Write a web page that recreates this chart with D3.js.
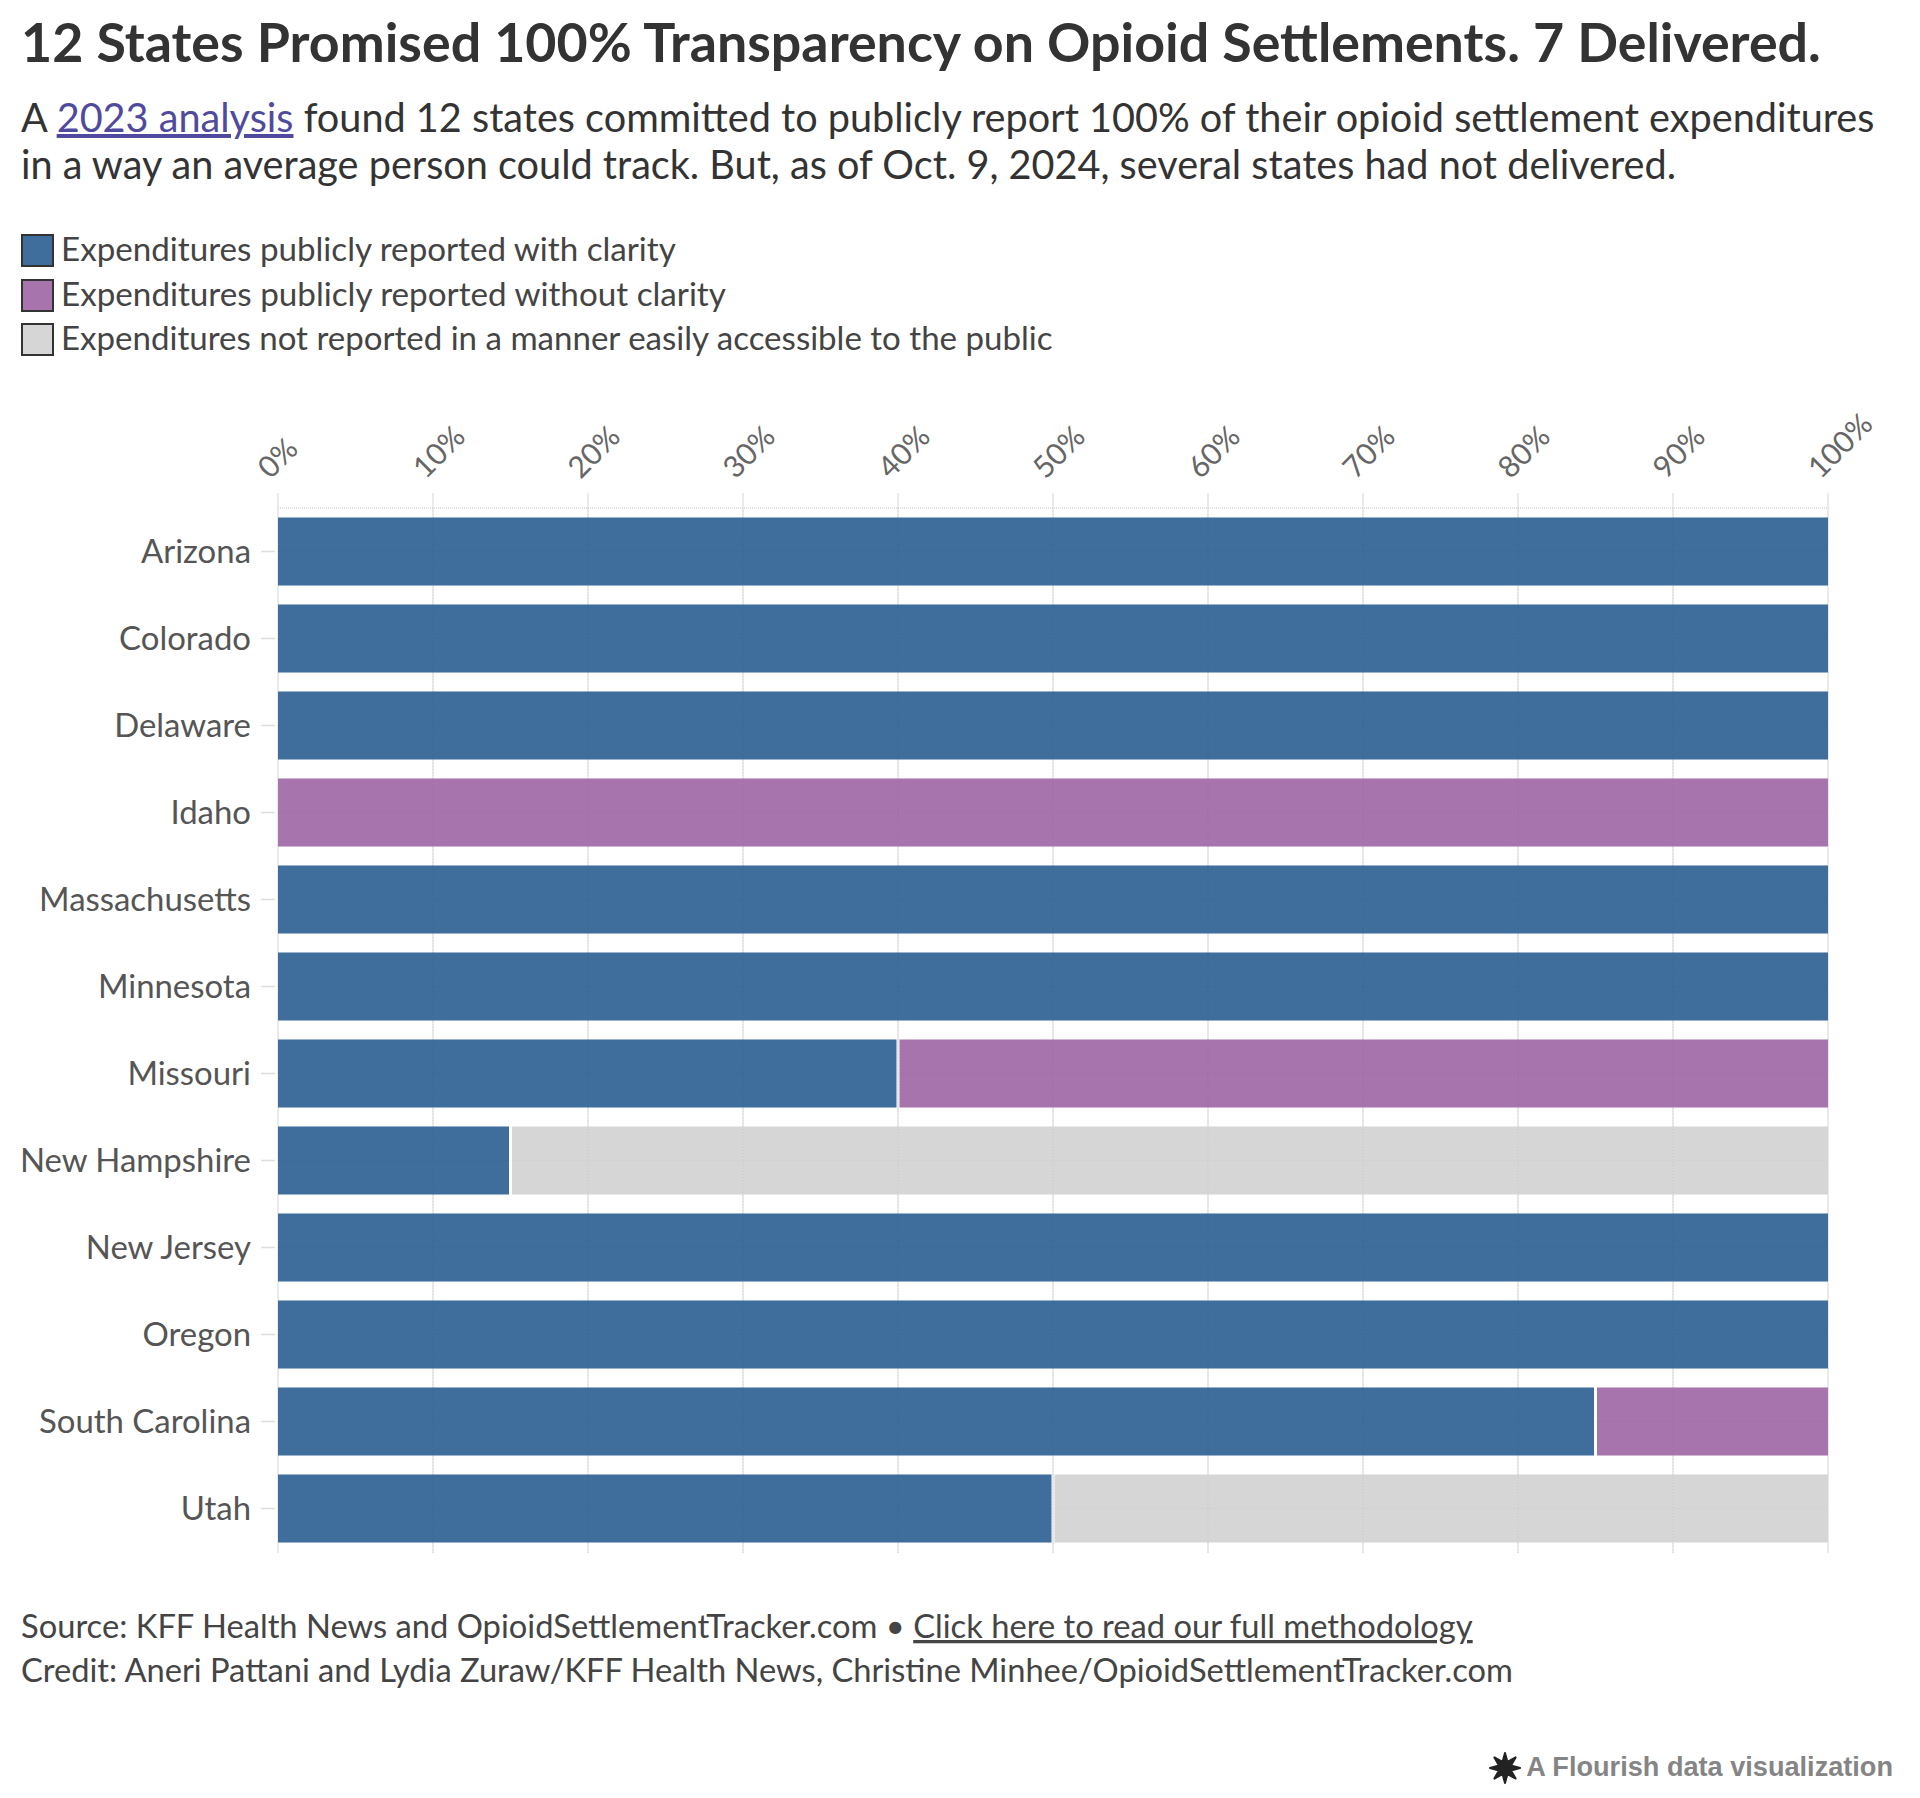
<!DOCTYPE html>
<html>
<head>
<meta charset="utf-8">
<script src="https://cdn.jsdelivr.net/npm/d3@7"></script>
<style>
  html, body { margin: 0; padding: 0; background: #fff; }
  svg { display: block; }
  text { font-family: Lato, "Noto Sans", sans-serif; }
</style>
</head>
<body>
<svg id="chart" width="1920" height="1798"></svg>
<script>
// ---------- data ----------
const states = ["Arizona", "Colorado", "Delaware", "Idaho", "Massachusetts", "Minnesota",
  "Missouri", "New Hampshire", "New Jersey", "Oregon", "South Carolina", "Utah"];
const withClarity    = [100, 100, 100, 0, 100, 100, 40, 15, 100, 100, 85, 50];
const withoutClarity = [0, 0, 0, 100, 0, 0, 60, 0, 0, 0, 15, 0];
const notReported    = [0, 0, 0, 0, 0, 0, 0, 85, 0, 0, 0, 50];
const seriesNames = ["Expenditures publicly reported with clarity",
  "Expenditures publicly reported without clarity",
  "Expenditures not reported in a manner easily accessible to the public"];
const seriesColors = ["#3f6d9c", "#a874ae", "#d6d6d6"];
const tickValues = [0, 10, 20, 30, 40, 50, 60, 70, 80, 90, 100];

const svg = d3.select("#chart");

// helper: fit text to a target width by adjusting font size
function fit(sel, target) {
  const node = sel.node();
  const w = node.getComputedTextLength();
  const fs = parseFloat(sel.attr("font-size"));
  sel.attr("font-size", (fs * target / w).toFixed(2));
  return sel;
}

// ---------- title & subtitle ----------
fit(svg.append("text").attr("x", 21).attr("y", 62)
  .attr("font-size", 46).attr("font-weight", 700).attr("fill", "#333")
  .text("12 States Promised 100% Transparency on Opioid Settlements. 7 Delivered."), 1800);

const sub1 = svg.append("text").attr("x", 21).attr("y", 132)
  .attr("font-size", 36).attr("fill", "#333");
sub1.append("tspan").text("A ");
sub1.append("tspan").attr("fill", "#4f4a9e").attr("text-decoration", "underline").text("2023 analysis");
sub1.append("tspan").text(" found 12 states committed to publicly report 100% of their opioid settlement expenditures");
fit(sub1, 1854);
const subFs = sub1.attr("font-size");
svg.append("text").attr("x", 21).attr("y", 179)
  .attr("font-size", subFs).attr("fill", "#333")
  .text("in a way an average person could track. But, as of Oct. 9, 2024, several states had not delivered.");

// ---------- legend ----------
const legendY = [250, 295, 339];
const legendW = [615, 665, 992];
seriesNames.forEach((name, i) => {
  svg.append("rect").attr("x", 22).attr("y", legendY[i] - 15).attr("width", 31).attr("height", 31)
    .attr("fill", seriesColors[i]).attr("stroke", "#333").attr("stroke-width", 2);
  fit(svg.append("text").attr("x", 61).attr("y", legendY[i] + 11)
    .attr("font-size", 30).attr("fill", "#444").text(name), legendW[i]);
});

// ---------- scales ----------
const x = d3.scaleLinear().domain([0, 100]).range([278, 1828]);
const y = d3.scaleBand().domain(states).range([508, 1552]).paddingInner(0.218).paddingOuter(0.109);

const gridTop = 493, gridBottom = 1553;

// vertical gridlines
svg.append("g").selectAll("line").data(tickValues).join("line")
  .attr("x1", d => x(d)).attr("x2", d => x(d))
  .attr("y1", gridTop).attr("y2", gridBottom)
  .attr("stroke", "#e3e3e3").attr("stroke-width", 1.5);

// top horizontal dotted line
svg.append("line").attr("x1", x(0)).attr("x2", x(100)).attr("y1", 508).attr("y2", 508)
  .attr("stroke", "#e0e0e0").attr("stroke-width", 2).attr("stroke-dasharray", "1,1");

// x axis (top) with rotated labels
const xAxis = d3.axisTop(x).tickValues(tickValues).tickFormat(d => d + "%").tickSize(0).tickPadding(0);
const gx = svg.append("g").attr("transform", "translate(0,481)").call(xAxis);
gx.select(".domain").remove();
gx.selectAll(".tick text")
  .style("font-family", "Lato, sans-serif").attr("font-size", 30).attr("fill", "#666")
  .attr("text-anchor", "start").attr("dy", 0).attr("y", 0)
  .attr("transform", "translate(-8,-1) rotate(-45)");

// y axis
const yAxis = d3.axisLeft(y).tickSize(14).tickPadding(10);
const gy = svg.append("g").attr("transform", "translate(275,0)").call(yAxis);
gy.select(".domain").remove();
gy.selectAll(".tick line").attr("stroke", "#ddd").attr("stroke-width", 1.5);
const yTexts = gy.selectAll(".tick text").style("font-family", "Lato, sans-serif")
  .attr("font-size", 29).attr("fill", "#555").attr("dy", "0.35em");
// size y labels so that the widest matches the reference
const massNode = yTexts.filter(d => d === "Massachusetts");
fit(massNode, 212);
yTexts.attr("font-size", massNode.attr("font-size"));

// ---------- stacked bars ----------
const rows = states.map((s, i) => ({ state: s, v: [withClarity[i], withoutClarity[i], notReported[i]] }));
const segs = [];
rows.forEach(r => {
  let acc = 0;
  const nonzero = r.v.map((v, k) => ({ v, k })).filter(o => o.v > 0);
  nonzero.forEach((o, j) => {
    segs.push({ state: r.state, k: o.k, x0: acc, x1: acc + o.v, first: j === 0, last: j === nonzero.length - 1 });
    acc += o.v;
  });
});
svg.append("g").selectAll("rect").data(segs).join("rect")
  .attr("x", d => x(d.x0) + (d.first ? 0 : 1.5))
  .attr("width", d => x(d.x1) - x(d.x0) - (d.first ? 0 : 1.5) - (d.last ? 0 : 1.5))
  .attr("y", d => y(d.state))
  .attr("height", y.bandwidth())
  .attr("fill", d => seriesColors[d.k]);

// faint dotted gridlines over bars
const over = svg.append("g").attr("opacity", 0.5);
over.selectAll("line.v").data(tickValues.slice(1, -1)).join("line")
  .attr("x1", d => x(d)).attr("x2", d => x(d)).attr("y1", 508).attr("y2", gridBottom)
  .attr("stroke", "rgba(0,0,0,0.12)").attr("stroke-width", 1).attr("stroke-dasharray", "1,2");
over.selectAll("line.h").data(states).join("line")
  .attr("x1", x(0)).attr("x2", x(100))
  .attr("y1", d => y(d) + y.bandwidth() / 2).attr("y2", d => y(d) + y.bandwidth() / 2)
  .attr("stroke", "rgba(0,0,0,0.12)").attr("stroke-width", 1).attr("stroke-dasharray", "1,3");

// ---------- footer ----------
const f1 = svg.append("text").attr("x", 21).attr("y", 1638).attr("font-size", 30).attr("fill", "#444");
f1.append("tspan").text("Source: KFF Health News and OpioidSettlementTracker.com • ");
f1.append("tspan").attr("text-decoration", "underline").text("Click here to read our full methodology");
fit(f1, 1452);
fit(svg.append("text").attr("x", 21).attr("y", 1682).attr("font-size", 30).attr("fill", "#444")
  .text("Credit: Aneri Pattani and Lydia Zuraw/KFF Health News, Christine Minhee/OpioidSettlementTracker.com"), 1492);

// Flourish credit
const fl = svg.append("text").attr("x", 1893).attr("y", 1776).attr("text-anchor", "end")
  .style("font-family", "'Liberation Sans', Arial, sans-serif").attr("font-weight", 700)
  .attr("font-size", 24).attr("fill", "#858585").text("A Flourish data visualization");
fit(fl, 367);
// starburst icon
const cx = 1505, cy = 1768, rO = 15, rI = 6.5, n = 8;
const pts = d3.range(n * 2).map(i => {
  const r = i % 2 === 0 ? rO : rI;
  const a = Math.PI * i / n - Math.PI / 2;
  return [cx + r * Math.cos(a), cy + r * Math.sin(a)];
});
svg.append("polygon").attr("points", pts.map(p => p.join(",")).join(" ")).attr("fill", "#222")
  .attr("stroke", "#222").attr("stroke-width", 2).attr("stroke-linejoin", "round");
</script>
</body>
</html>
